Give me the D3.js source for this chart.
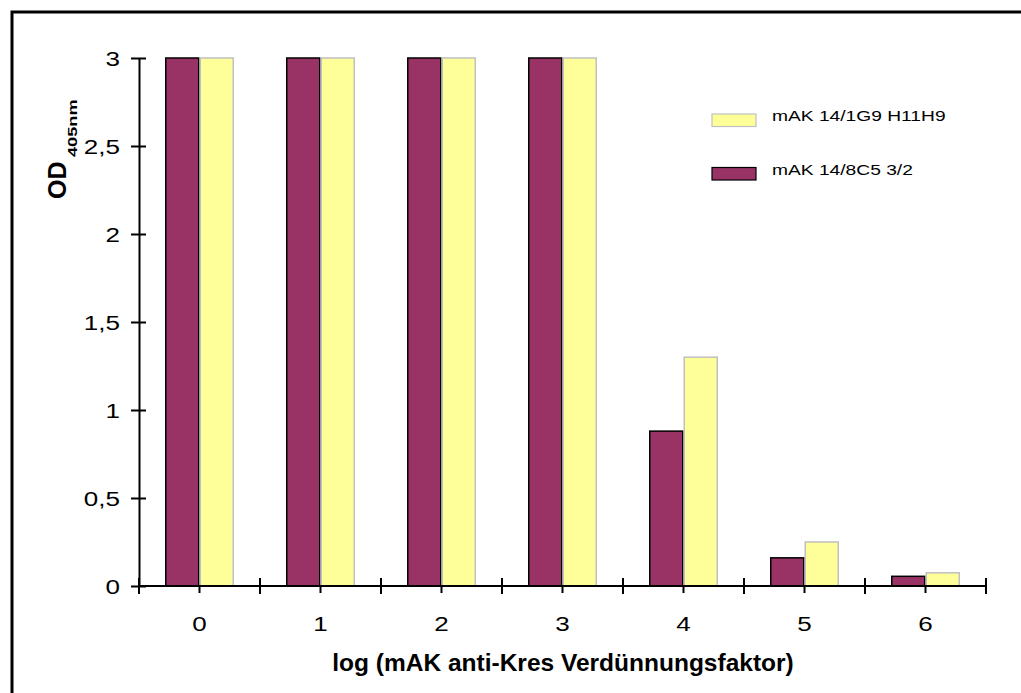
<!DOCTYPE html>
<html><head><meta charset="utf-8">
<script src="https://cdn.jsdelivr.net/npm/d3@7"></script>
<style>body{margin:0;background:#fff}svg{display:block}text{font-family:"Liberation Sans",Arial,sans-serif}</style>
</head><body><svg id="c" width="1021" height="693"></svg>
<script>
const categories = ["0","1","2","3","4","5","6"];
const seriesNames = ["mAK 14/8C5 3/2","mAK 14/1G9 H11H9"];
const maroonValues = [3,3,3,3,0.88,0.16,0.055];
const yellowValues = [3,3,3,3,1.30,0.25,0.075];
const yTicks = [0,0.5,1,1.5,2,2.5,3];
const yTickLabels = ["0","0,5","1","1,5","2","2,5","3"];

(function(){
const svg = d3.select("#c");
svg.append("rect").attr("x",12).attr("y",12).attr("width",1030).attr("height",700)
  .attr("fill","none").attr("stroke","#000").attr("stroke-width",3);

const pLeft=139,pRight=986,pTop=58,pBottom=586;
const SX = 1.24;
const x = d3.scaleBand().domain(categories).range([pLeft,pRight]).paddingInner(0).paddingOuter(0);
const y = d3.scaleLinear().domain([0,3]).range([pBottom,pTop]);
const inner = d3.scaleBand().domain([0,1]).range([26, x.bandwidth()-26]);

const colors = ["#993366","#FFFF99"];
const strokes = ["#000","#c0c0c0"];
const data = [maroonValues, yellowValues];

const g = svg.append("g");
data.forEach((vals,si)=>{
  g.selectAll(".b"+si).data(vals).enter().append("rect")
   .attr("x",(d,i)=>x(categories[i])+inner(si)+0.75)
   .attr("y",d=>y(d))
   .attr("width",inner.bandwidth()-1.5)
   .attr("height",d=>y(0)-y(d))
   .attr("fill",colors[si]).attr("stroke",strokes[si]).attr("stroke-width",1.5);
});

// y axis
const yAxis = d3.axisLeft(y).tickValues(yTicks).tickFormat((d,i)=>yTickLabels[i]).tickSize(10).tickSizeOuter(0);
const ya = svg.append("g").attr("transform",`translate(${pLeft},0)`).call(yAxis);
ya.attr("font-family",null).attr("font-size",null);
ya.select(".domain").attr("stroke","#000").attr("stroke-width",2);
ya.selectAll(".tick line").attr("stroke","#000").attr("stroke-width",2).attr("x2",7).attr("x1",-8);
ya.selectAll(".tick text").attr("x",null).attr("dy","0.36em")
  .attr("transform",`translate(-19,0) scale(${SX},1)`)
  .attr("font-size",21).attr("fill","#000");

// x axis: boundary ticks
const xl = svg.append("g");
xl.append("line").attr("x1",pLeft).attr("x2",pRight).attr("y1",pBottom).attr("y2",pBottom).attr("stroke","#000").attr("stroke-width",2);
const bounds = categories.map(c=>x(c)).concat([pRight]);
xl.selectAll(".bt").data(bounds).enter().append("line")
  .attr("x1",d=>d).attr("x2",d=>d).attr("y1",pBottom-8).attr("y2",pBottom+8)
  .attr("stroke","#000").attr("stroke-width",2);
xl.selectAll(".ct").data(categories).enter().append("line")
  .attr("x1",d=>x(d)+x.bandwidth()/2).attr("x2",d=>x(d)+x.bandwidth()/2)
  .attr("y1",pBottom).attr("y2",pBottom+7).attr("stroke","#000").attr("stroke-width",2);
xl.selectAll(".cl").data(categories).enter().append("text")
  .attr("transform",d=>`translate(${x(d)+x.bandwidth()/2},631) scale(${SX},1)`)
  .attr("text-anchor","middle").attr("font-size",21).text(d=>d);

svg.append("text").attr("x",563).attr("y",671).attr("text-anchor","middle")
  .attr("font-size",24.5).attr("font-weight","bold").text("log (mAK anti-Kres Verdünnungsfaktor)");

svg.append("text").attr("transform","translate(66,199) rotate(-90)")
  .attr("font-weight","bold").attr("font-size",25).text("OD");
svg.append("text").attr("transform","translate(77,157) rotate(-90) scale(1.4,1)")
  .attr("font-weight","bold").attr("font-size",13).text("405nm");

// legend
const leg = svg.append("g");
const legItems = [{c:1,t:seriesNames[1],y:114,b:121},{c:0,t:seriesNames[0],y:167.5,b:175}];
legItems.forEach(it=>{
  leg.append("rect").attr("x",712).attr("y",it.y).attr("width",44).attr("height",12.5)
    .attr("fill",colors[it.c]).attr("stroke",strokes[it.c]).attr("stroke-width",1.2);
  leg.append("text").attr("transform",`translate(772,${it.b}) scale(1.24,1)`)
    .attr("font-size",15.5).text(it.t);
});
})();
</script></body></html>
